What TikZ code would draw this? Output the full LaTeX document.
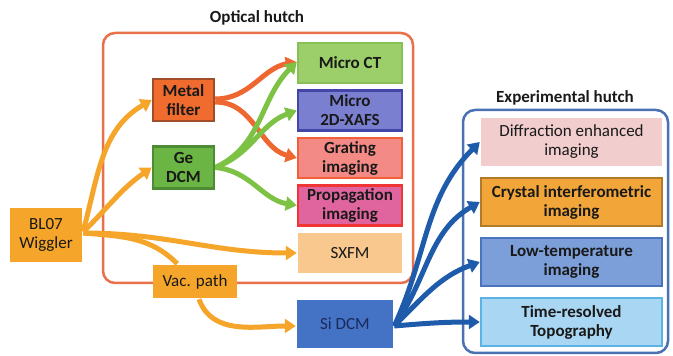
\documentclass[tikz,border=0pt]{standalone}
\usepackage{fontspec}
\setmainfont{Carlito}
\usepackage{tikz}
\usetikzlibrary{arrows.meta, backgrounds}

\definecolor{beamorange}{HTML}{F5A52A}
\definecolor{beamred}{HTML}{EE6630}
\definecolor{beamgreen}{HTML}{7DC244}
\definecolor{beamblue}{HTML}{1E5BAA}
\definecolor{opticframe}{HTML}{E8704A}
\definecolor{expframe}{HTML}{4A72B2}
\definecolor{filterfill}{HTML}{F06B2E}
\definecolor{filteredge}{HTML}{A04E2A}
\definecolor{gefill}{HTML}{6AB544}
\definecolor{geedge}{HTML}{4E8B35}
\definecolor{ctfill}{HTML}{9CCF6A}
\definecolor{ctedge}{HTML}{86C056}
\definecolor{xafsfill}{HTML}{7B7FD0}
\definecolor{xafsedge}{HTML}{4346A8}
\definecolor{gratingfill}{HTML}{F38A85}
\definecolor{gratingedge}{HTML}{F2603A}
\definecolor{propfill}{HTML}{E0659E}
\definecolor{propedge}{HTML}{F03535}
\definecolor{sxfmfill}{HTML}{F9C88F}
\definecolor{sifill}{HTML}{4472C4}
\definecolor{sitext}{HTML}{1A2A5A}
\definecolor{deifill}{HTML}{F2CDCD}
\definecolor{crystfill}{HTML}{F2A63A}
\definecolor{crystedge}{HTML}{B07A28}
\definecolor{lowtfill}{HTML}{7C9FDA}
\definecolor{lowtedge}{HTML}{4B74BE}
\definecolor{timefill}{HTML}{A9D6F2}
\definecolor{timeedge}{HTML}{5BB2E5}

\newcommand{\hutchfont}{\fontsize{17}{19}\selectfont}

\tikzstyle{hutch} = [rounded corners=12pt, line width=2.5pt]
\tikzstyle{title} = [font=\hutchfont\bfseries, text=black!90]
\tikzstyle{unit} = [rectangle, align=center, line width=2.5pt, inner sep=1pt, font=\hutchfont, text=black!90]
\tikzstyle{source} = [unit, minimum width=72pt, minimum height=54pt, fill=beamorange]
\tikzstyle{optic} = [unit, font=\hutchfont\bfseries, minimum width=61pt, minimum height=42pt]
\tikzstyle{station} = [unit, minimum width=104pt, minimum height=40pt]
\tikzstyle{expstation} = [unit, minimum width=181pt, minimum height=48pt]
\tikzstyle{beam} = [line width=5pt, -{Triangle[width=14pt,length=11pt]}]

\begin{document}
\begin{tikzpicture}[x=1pt, y=1pt, node distance=47.5pt]
\useasboundingbox (0,0) rectangle (673,356);

\node (optitle) [title] at (257,338) {Optical hutch};
\node (exptitle) [title] at (565,258) {Experimental hutch};

\node (wig) [source] at (46,121) {BL07\\Wiggler};
\node (filter) [optic, fill=filterfill, draw=filteredge] at (183.5,256) {Metal\\filter};
\node (ge) [optic, fill=gefill, draw=geedge] at (183.5,188.5) {Ge\\DCM};

\node (ct) [station, font=\hutchfont\bfseries, fill=ctfill, draw=ctedge] at (350,293) {Micro CT};
\node (xafs) [station, font=\hutchfont\bfseries, fill=xafsfill, draw=xafsedge, below of=ct] {Micro\\2D-XAFS};
\node (grating) [station, font=\hutchfont\bfseries, fill=gratingfill, draw=gratingedge, below of=xafs] {Grating\\imaging};
\node (prop) [station, font=\hutchfont\bfseries, fill=propfill, draw=propedge, below of=grating] {Propagation\\imaging};
\node (sxfm) [station, fill=sxfmfill, below of=prop] {SXFM};

\node (vac) [unit, fill=beamorange, minimum width=84pt, minimum height=33pt] at (195,74.5) {Vac. path};
\node (si) [unit, fill=sifill, minimum width=96pt, minimum height=48pt, text=sitext] at (345,32) {Si DCM};

\node (dei) [expstation, fill=deifill] at (571.5,214) {Diffraction enhanced\\imaging};
\node (cryst) [expstation, font=\hutchfont\bfseries, fill=crystfill, draw=crystedge, node distance=60pt, below of=dei] {Crystal interferometric\\imaging};
\node (lowt) [expstation, font=\hutchfont\bfseries, fill=lowtfill, draw=lowtedge, node distance=60pt, below of=cryst] {Low-temperature\\imaging};
\node (time) [expstation, font=\hutchfont\bfseries, fill=timefill, draw=timeedge, node distance=60pt, below of=lowt] {Time-resolved\\Topography};

\begin{scope}[on background layer]
% hutch frames
\draw [hutch, draw=opticframe] (103,323) rectangle (413,73);
\draw [hutch, draw=expframe] (463,246) rectangle (668,3);
% white beam
\draw [beam, beamorange] ([yshift=4pt]wig.east) to[out=75, in=210] (filter.west);
\draw [beam, beamorange] ([yshift=3pt]wig.east) to[out=45, in=215] (ge.west);
\draw [beam, beamorange] ([yshift=2pt]wig.east) to[out=0, in=180] (sxfm.west);
\draw [line width=5pt, beamorange] ([yshift=2pt]wig.east) to[out=-5, in=135] (vac);
\draw [beam, beamorange] ([xshift=4pt]vac.south) to[out=-70, in=180] ([yshift=-2pt]si.west);
% optical hutch
\draw [beam, beamred] ([yshift=1pt]filter.east) to[out=0, in=190] ([yshift=1pt]ct.west);
\draw [beam, beamred] ([yshift=-2pt]filter.east) to[out=0, in=165] (grating.west);
\draw [beam, beamgreen] (ge.east) to[out=25, in=225] ([yshift=1pt]ct.west);
\draw [beam, beamgreen] (ge.east) to[out=20, in=200] (xafs.west);
\draw [beam, beamgreen] (ge.east) to[out=-5, in=170] (prop.west);
% experimental hutch
\draw [beam, beamblue] ([yshift=-2pt]si.east) to[out=65, in=225] (dei.west);
\draw [beam, beamblue] ([yshift=-2pt]si.east) to[out=55, in=210] (cryst.west);
\draw [beam, beamblue] ([yshift=-2pt]si.east) to[out=45, in=200] (lowt.west);
\draw [beam, beamblue] ([yshift=-2pt]si.east) to[out=5, in=180] (time.west);
\end{scope}
\end{tikzpicture}
\end{document}
